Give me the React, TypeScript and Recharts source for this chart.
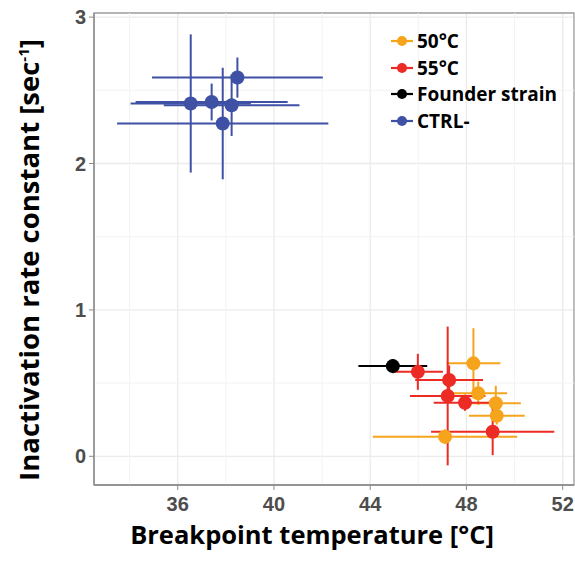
import React from "react";
import {
  ScatterChart,
  Scatter,
  XAxis,
  YAxis,
  CartesianGrid,
  ErrorBar,
  ReferenceLine,
  ReferenceArea,
} from "recharts";

// tick values
const xTicks = [36, 40, 44, 48, 52];
const xMinor = [34, 38, 42, 46, 50];
const yTicks = [0, 1, 2, 3];
const yMinor = [0.5, 1.5, 2.5];
const xDomain = [32.52, 52.47];
const yDomain = [-0.196, 3.028];

// 50°C
const o50X = [48.29, 48.49, 49.22, 49.26, 47.11];
const o50Y = [0.635, 0.43, 0.362, 0.277, 0.134];
const o50XErr = [1.12, 1.2, 1.04, 1.16, 3.0];
const o50YErr = [0.24, 0.08, 0.12, 0.06, 0.05];

// 55°C
const r55X = [45.98, 47.28, 47.22, 47.94, 49.09];
const r55Y = [0.577, 0.521, 0.412, 0.366, 0.168];
const r55XErr = [1.04, 1.41, 1.57, 1.3, 2.56];
const r55YErr = [0.123, 0.1, 0.474, 0.055, 0.16];

// founder strain
const fX = [44.94];
const fY = [0.616];
const fXErr = [1.43];
const fYErr = [0.048];

// CTRL-
const cX = [36.54, 37.41, 38.24, 37.87, 38.48];
const cY = [2.41, 2.42, 2.398, 2.273, 2.587];
const cXErr = [2.5, 3.16, 2.82, 4.39, 3.55];
const cYErr = [0.472, 0.126, 0.21, 0.381, 0.137];

const build = (xs: number[], ys: number[], ex: number[], ey: number[]) =>
  xs.map((x, i) => ({ x, y: ys[i], ex: ex[i], ey: ey[i] }));

const series = [
  { name: "50°C", color: "#F7A41D", data: build(o50X, o50Y, o50XErr, o50YErr) },
  { name: "55°C", color: "#EC2B24", data: build(r55X, r55Y, r55XErr, r55YErr) },
  { name: "Founder strain", color: "#000000", data: build(fX, fY, fXErr, fYErr) },
  { name: "CTRL-", color: "#3F51A5", data: build(cX, cY, cXErr, cYErr) },
];

const tickStyle = {
  fill: "#4D4D4D",
  fontSize: 20,
  fontWeight: 700,
  fontFamily: "Liberation Sans, Arial, sans-serif",
};
const titleFont = "'Open Sans', Lato, sans-serif";

function LegendBox() {
  return (
    <div
      style={{
        position: "absolute",
        left: 390,
        top: 28,
        fontFamily: titleFont,
        fontWeight: 700,
        fontSize: 19,
      }}
    >
      {series.map((s) => (
        <div
          key={s.name}
          style={{ display: "flex", alignItems: "center", height: 26.5 }}
        >
          <svg width={24} height={12} style={{ marginRight: 3 }}>
            <line x1={1} y1={6} x2={23} y2={6} stroke={s.color} strokeWidth={2.2} />
            <circle cx={12} cy={6} r={5} fill={s.color} />
          </svg>
          <span style={{ color: "#000" }}>{s.name}</span>
        </div>
      ))}
    </div>
  );
}

export default function App() {
  return (
    <div
      style={{
        position: "absolute",
        left: 0,
        top: 0,
        width: 575,
        height: 562,
        background: "#fff",
      }}
    >
      <ScatterChart
        width={575}
        height={562}
        margin={{ top: 13, right: 1, bottom: 0, left: 0 }}
      >
        <CartesianGrid stroke="#EBEBEB" strokeWidth={1.3} />
        {xMinor.map((v) => (
          <ReferenceLine key={"vx" + v} x={v} stroke="#F3F3F3" strokeWidth={1} />
        ))}
        {yMinor.map((v) => (
          <ReferenceLine key={"hy" + v} y={v} stroke="#F3F3F3" strokeWidth={1} />
        ))}
        <ReferenceArea
          x1={xDomain[0]}
          x2={xDomain[1]}
          y1={yDomain[0]}
          y2={yDomain[1]}
          fill="none"
          stroke="#A0A0A0"
          strokeWidth={1.3}
        />
        <XAxis
          type="number"
          dataKey="x"
          domain={xDomain}
          allowDataOverflow
          ticks={xTicks}
          tick={tickStyle}
          tickSize={5}
          tickMargin={7}
          tickLine={{ stroke: "#8A8A8A" }}
          axisLine={{ stroke: "#8A8A8A", strokeWidth: 1.3 }}
          height={77}
          label={{
            content: () => (
              <text
                x={312}
                y={544}
                textAnchor="middle"
                fontFamily={titleFont}
                fontWeight={700}
                fontSize={25.5}
                fill="#000"
              >
                Breakpoint temperature [°C]
              </text>
            ),
          }}
        />
        <YAxis
          type="number"
          dataKey="y"
          domain={yDomain}
          allowDataOverflow
          ticks={yTicks}
          tick={tickStyle}
          tickSize={5}
          tickMargin={3}
          tickLine={{ stroke: "#8A8A8A" }}
          axisLine={{ stroke: "#8A8A8A", strokeWidth: 1.3 }}
          width={94}
          label={{
            content: () => (
              <text
                x={39}
                y={260}
                transform="rotate(-90 39 260)"
                textAnchor="middle"
                fontFamily={titleFont}
                fontWeight={700}
                fontSize={27.5}
                fill="#000"
              >
                Inactivation rate constant [sec
                <tspan dy={-10} fontSize={15}>-1</tspan>
                <tspan dy={10}>]</tspan>
              </text>
            ),
          }}
        />
        {series.map((s) => (
          <Scatter
            key={s.name}
            name={s.name}
            data={s.data}
            fill={s.color}
            isAnimationActive={false}
            shape={(p: any) => <circle cx={p.cx} cy={p.cy} r={7} fill={s.color} />}
          >
            <ErrorBar
              dataKey="ex"
              direction="x"
              width={0}
              stroke={s.color}
              strokeWidth={2}
              isAnimationActive={false}
            />
            <ErrorBar
              dataKey="ey"
              direction="y"
              width={0}
              stroke={s.color}
              strokeWidth={2}
              isAnimationActive={false}
            />
          </Scatter>
        ))}
      </ScatterChart>
      <LegendBox />
    </div>
  );
}
